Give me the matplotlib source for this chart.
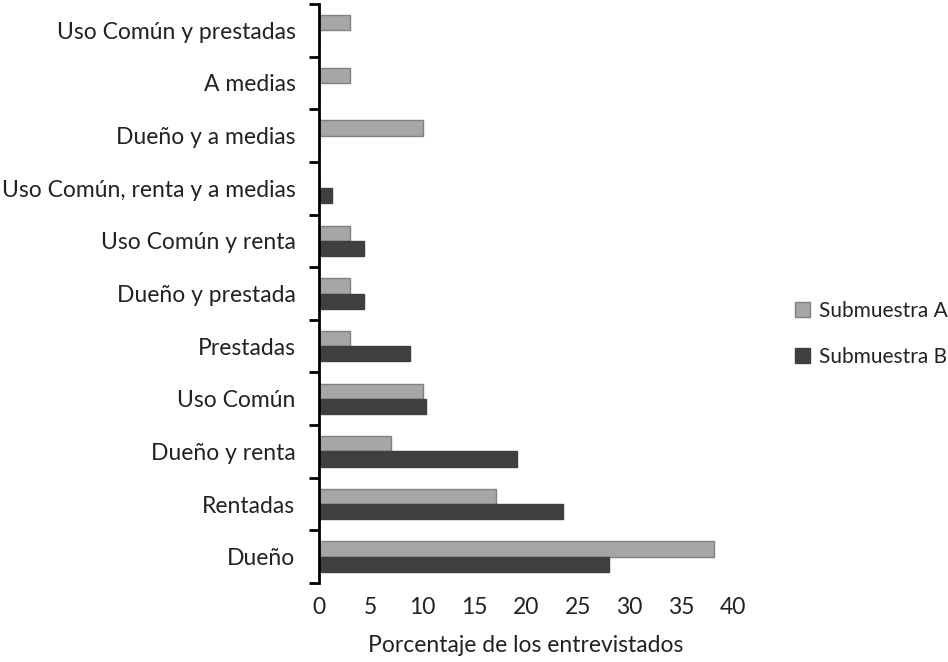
import matplotlib
matplotlib.use("Agg")
import matplotlib.pyplot as plt
import numpy as np
from matplotlib.ticker import FixedLocator

categories = ["Dueño", "Rentadas", "Dueño y renta", "Uso Común", "Prestadas",
              "Dueño y prestada", "Uso Común y renta", "Uso Común, renta y a medias",
              "Dueño y a medias", "A medias", "Uso Común y prestadas"]
sub_a = [38.2, 17.1, 7.0, 10.0, 3.0, 3.0, 3.0, 0, 10.0, 3.0, 3.0]
sub_b = [28.0, 23.6, 19.1, 10.3, 8.8, 4.3, 4.3, 1.3, 0, 0, 0]
xticks = [0, 5, 10, 15, 20, 25, 30, 35, 40]

FS = 16.5
plt.rcParams['font.family'] = ['Lato', 'DejaVu Sans']
fig = plt.figure(figsize=(9.48, 6.62), dpi=100)
ax = fig.add_axes([319/948, 1-583/662, (733-319)/948, (583-4)/662])

y = np.arange(len(categories))
h = 0.29
ax.barh(y + h/2, sub_a, height=h, color="#a6a6a6", edgecolor="#808080", linewidth=1, label="Submuestra A")
ax.barh(y - h/2, sub_b, height=h, color="#3f3f3f", edgecolor="#3f3f3f", linewidth=1, label="Submuestra B")

ax.set_xlim(0, 40)
ax.set_ylim(-0.5, len(categories) - 0.5)
ax.set_xticks(xticks)
ax.set_xticklabels([str(t) for t in xticks], fontsize=FS, color="#222222")
ax.tick_params(axis='x', length=0, pad=10)

ax.yaxis.set_major_locator(FixedLocator(np.arange(len(categories) + 1) - 0.5))
ax.yaxis.set_major_formatter(plt.NullFormatter())
ax.set_yticks(y, minor=True)
ax.set_yticklabels(categories, minor=True, fontsize=FS, color="#222222")
ax.tick_params(axis='y', which='major', length=7, width=2, direction='out', color='black')
ax.tick_params(axis='y', which='minor', length=0, pad=17)

for s in ['top', 'right', 'bottom']:
    ax.spines[s].set_visible(False)
ax.spines['left'].set_linewidth(2)

ax.set_xlabel("Porcentaje de los entrevistados", fontsize=FS, color="#222222", labelpad=12)

leg = fig.legend(loc='center left', bbox_to_anchor=(776/948, 1-334/662), frameon=False,
                 fontsize=15, handlelength=0.75, handleheight=0.75, handletextpad=0.4,
                 labelspacing=1.25, labelcolor="#222222")

fig.savefig("out.png", dpi=100)
